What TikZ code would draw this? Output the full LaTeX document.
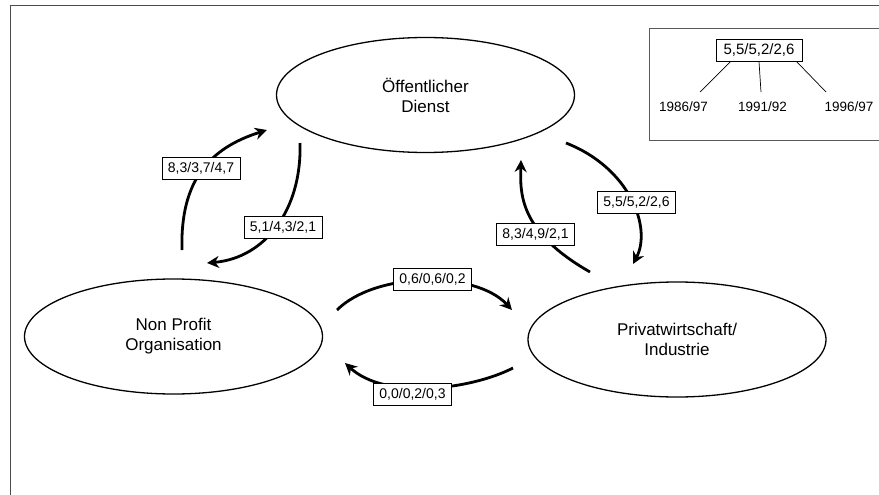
\documentclass[tikz,border=0pt]{standalone}
\usepackage{fontspec}
\setmainfont{Liberation Sans}
\usetikzlibrary{arrows.meta,shapes.geometric}

\begin{document}
\begin{tikzpicture}[x=1pt, y=-1pt,
    feld/.style={ellipse, draw, line width=1.3pt, minimum width=298pt, minimum height=115pt, inner sep=0pt, align=center, font=\fontsize{17}{20}\selectfont},
    wert/.style={draw, line width=0.9pt, fill=white, minimum width=78pt, minimum height=22pt, inner sep=0pt, font=\fontsize{14}{16}\selectfont},
    fluss/.style={line width=2.8pt, -{Stealth[length=12pt, width=12pt]}},
    jahr/.style={anchor=base, font=\fontsize{13.5}{16}\selectfont}]
    \useasboundingbox (0,0) rectangle (879,495);
    \draw[line width=1.2pt, black!70] (879,5.5) -- (10.5,5.5) -- (10.5,495);

    % Bereiche
    \node[feld] (od) at (425.5,95)  {Öffentlicher\\Dienst};
    \node[feld] (np) at (173.5,336.5) {Non Profit\\Organisation};
    \node[feld] (pw) at (677,339.5) {Privatwirtschaft/\\Industrie};

    % Enden der Pfeile
    \coordinate (s1) at (182,250);  \coordinate (t1) at (267,130);
    \coordinate (s2) at (300,143);  \coordinate (t2) at (207,263);
    \coordinate (s3) at (590,272);  \coordinate (t3) at (521,160);
    \coordinate (s4) at (566,143);  \coordinate (t4) at (633,264);
    \coordinate (s5) at (337,310);  \coordinate (t5) at (512,310);
    \coordinate (s6) at (513,368);  \coordinate (t6) at (345,363);

    \draw[fluss] (s1) .. controls (180,180) and (210,148) .. (t1);
    \draw[fluss] (s2) .. controls (302,210) and (265,258) .. (t2);
    \draw[fluss] (s3) .. controls (520,232) and (520,195) .. (t3);
    \draw[fluss] (s4) .. controls (630,168) and (652,228) .. (t4);
    \draw[fluss] (s5) .. controls (375,272) and (475,270) .. (t5);
    \draw[fluss] (s6) .. controls (470,390) and (385,400) .. (t6);

    \node[wert] (w1) at (201,168)     {8,3/3,7/4,7};
    \node[wert] (w2) at (283,227)     {5,1/4,3/2,1};
    \node[wert] (w3) at (535.5,234)   {8,3/4,9/2,1};
    \node[wert] (w4) at (636.5,202.5) {5,5/5,2/2,6};
    \node[wert] (w5) at (432.5,279.5) {0,6/0,6/0,2};
    \node[wert] (w6) at (412.5,394.5) {0,0/0,2/0,3};

    % Legende
    \draw[line width=1pt, black!65] (879,28.7) -- (649,28.7) -- (649,140) -- (879,140);
    \node[wert, minimum width=86pt, font=\fontsize{15}{18}\selectfont] (leg) at (759,50) {5,5/5,2/2,6};
    \node[jahr] (j1) at (683.6,111) {1986/97};
    \node[jahr] (j2) at (762.5,111) {1991/92};
    \node[jahr] (j3) at (849,111)   {1996/97};
    \coordinate (e1) at (700,92);
    \coordinate (e2) at (761,92);
    \coordinate (e3) at (826,92);
    \draw[line width=0.7pt] (leg.202) -- (e1);
    \draw[line width=0.7pt] (leg.south) -- (e2);
    \draw[line width=0.7pt] (leg.343) -- (e3);
\end{tikzpicture}
\end{document}
